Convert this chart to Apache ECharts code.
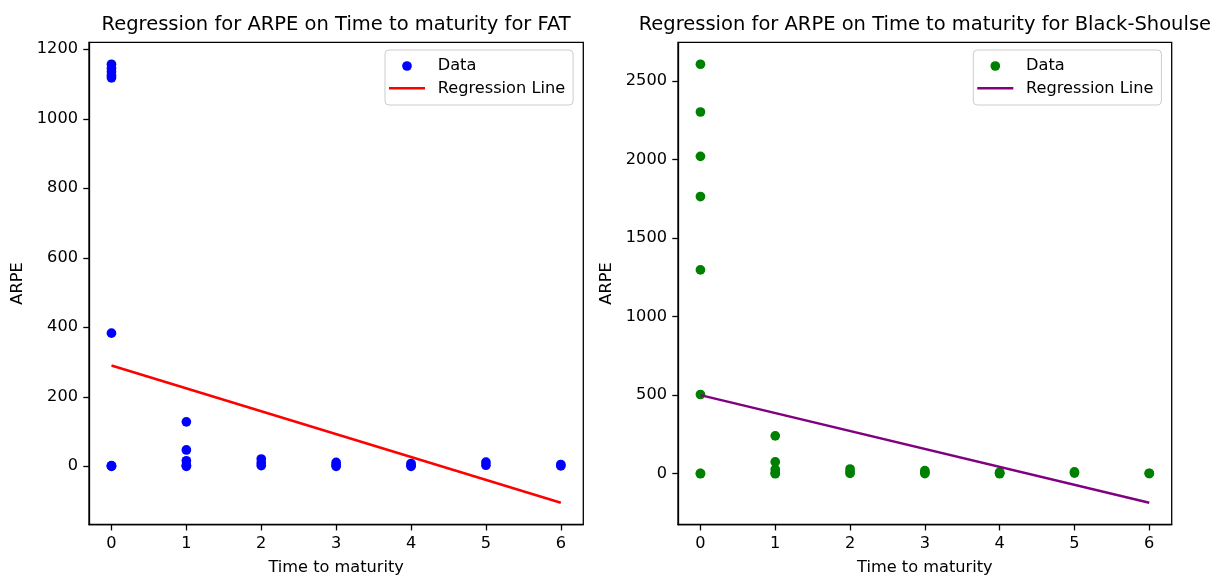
<!DOCTYPE html>
<html><head><meta charset="utf-8">
<script src="https://cdn.jsdelivr.net/npm/echarts@6/dist/echarts.min.js"></script>
<style>html,body{margin:0;padding:0;background:#fff;overflow:hidden}
#c1{position:absolute;left:0;top:0;width:595px;height:576px}
#c2{position:absolute;left:595px;top:0;width:623px;height:576px}</style>
</head><body><div id="c1"></div><div id="c2"></div>
<script>
// ---- data ----
const maturityTicks = [0, 1, 2, 3, 4, 5, 6];
const fatYTicks = [0, 200, 400, 600, 800, 1000, 1200];
const bsYTicks = [0, 500, 1000, 1500, 2000, 2500];

const fatTime = [0, 0, 0, 0, 0, 0, 0, 0, 0, 1, 1, 1, 1, 1, 2, 2, 2, 3, 3, 3, 4, 4, 4, 5, 5, 6, 6];
const fatArpe = [1118, 1125, 1135, 1145, 1157, 383, 2, 1, 0, 128, 47, 16, 3, 0, 21, 10, 2, 11, 4, 0, 8, 2, 0, 12, 3, 5, 1];
const fatRegTime = [0, 6];
const fatRegArpe = [290, -105];

const bsTime = [0, 0, 0, 0, 0, 0, 0, 0, 1, 1, 1, 1, 1, 2, 2, 2, 3, 3, 3, 4, 4, 4, 5, 5, 6, 6];
const bsArpe = [2606, 2302, 2020, 1764, 1297, 504, 2, 0, 241, 75, 27, 4, 0, 30, 12, 2, 20, 8, 1, 10, 3, 0, 12, 4, 3, 1];
const bsRegTime = [0, 6];
const bsRegArpe = [500, -185];

// ---- chart building ----
const FONT = 'DejaVu Sans';
const zip = (a, b) => a.map((v, i) => [v, b[i]]);
function padExtent(vals) {
  const lo = Math.min(...vals), hi = Math.max(...vals), r = hi - lo;
  return [lo - 0.05 * r, hi + 0.05 * r];
}

function makeOption(cfg) {
  const xExt = padExtent(cfg.time.concat(cfg.regTime));
  const yExt = padExtent(cfg.arpe.concat(cfg.regArpe));
  const tickStyle = { show: true, length: 5.7, lineStyle: { color: '#000', width: 1.3 } };
  const labelStyle = { fontSize: 16.2, fontFamily: FONT, color: '#000' };
  const plain = v => String(v);
  return {
    animation: false,
    backgroundColor: '#fff',
    graphic: [{
      type: 'text', x: cfg.gridLeft + cfg.gridWidth / 2, y: 14.5, silent: true,
      style: { text: cfg.title, fontSize: 19.5, fontFamily: FONT, fill: '#000', align: 'center', verticalAlign: 'top' }
    }],
    grid: { left: cfg.gridLeft, top: 42.3, width: cfg.gridWidth, height: 482.4, show: true,
            outerBoundsMode: 'none', containLabel: false,
            borderColor: '#000', borderWidth: 1.3, backgroundColor: 'transparent' },
    legend: {
      orient: 'vertical', left: cfg.legendLeft, top: 50,
      padding: [8, 8, 8.7, 4], itemGap: 6.3, itemWidth: 36, itemHeight: 9.7,
      backgroundColor: 'rgba(255,255,255,0.8)', borderColor: '#cccccc', borderWidth: 1, borderRadius: 4,
      selectedMode: false,
      textStyle: { fontSize: 16.2, fontFamily: FONT, color: '#000', lineHeight: 16, padding: [0, 0, 0, 7.7] },
      data: [{ name: 'Data', icon: 'circle' },
             { name: 'Regression Line', icon: 'path://M0,0L36,0L36,2.4L0,2.4Z' }]
    },
    xAxis: {
      type: 'value', min: xExt[0], max: xExt[1],
      name: 'Time to maturity', nameLocation: 'middle', nameGap: 35,
      nameTextStyle: labelStyle,
      splitLine: { show: false },
      axisLine: { show: true, onZero: false, lineStyle: { color: '#000', width: 1.3 } },
      axisTick: Object.assign({ customValues: maturityTicks }, tickStyle),
      axisLabel: Object.assign({ margin: 11, customValues: maturityTicks, formatter: plain }, labelStyle)
    },
    yAxis: {
      type: 'value', min: yExt[0], max: yExt[1],
      name: 'ARPE', nameLocation: 'middle', nameGap: 54,
      nameTextStyle: labelStyle,
      splitLine: { show: false },
      axisLine: { show: true, onZero: false, lineStyle: { color: '#000', width: 1.3 } },
      axisTick: Object.assign({ customValues: cfg.yTicks }, tickStyle),
      axisLabel: Object.assign({ margin: 11, customValues: cfg.yTicks, formatter: plain }, labelStyle)
    },
    series: [
      { type: 'scatter', name: 'Data', data: zip(cfg.time, cfg.arpe), symbolSize: 9.7,
        itemStyle: { color: cfg.dotColor, opacity: 1 }, emphasis: { disabled: true } },
      { type: 'line', name: 'Regression Line', data: zip(cfg.regTime, cfg.regArpe), symbol: 'none',
        lineStyle: { color: cfg.lineColor, width: 2.43 }, itemStyle: { color: cfg.lineColor },
        emphasis: { disabled: true } }
    ]
  };
}

const c1 = echarts.init(document.getElementById('c1'));
c1.setOption(makeOption({
  title: 'Regression for ARPE on Time to maturity for FAT',
  time: fatTime, arpe: fatArpe, regTime: fatRegTime, regArpe: fatRegArpe,
  yTicks: fatYTicks, gridLeft: 89, gridWidth: 494.3, legendLeft: 385,
  dotColor: '#0000ff', lineColor: '#ff0000'
}));

const c2 = echarts.init(document.getElementById('c2'));
c2.setOption(makeOption({
  title: 'Regression for ARPE on Time to maturity for Black-Shoulse',
  time: bsTime, arpe: bsArpe, regTime: bsRegTime, regArpe: bsRegArpe,
  yTicks: bsYTicks, gridLeft: 83, gridWidth: 493.7, legendLeft: 378.3,
  dotColor: '#008000', lineColor: '#800080'
}));
</script></body></html>
